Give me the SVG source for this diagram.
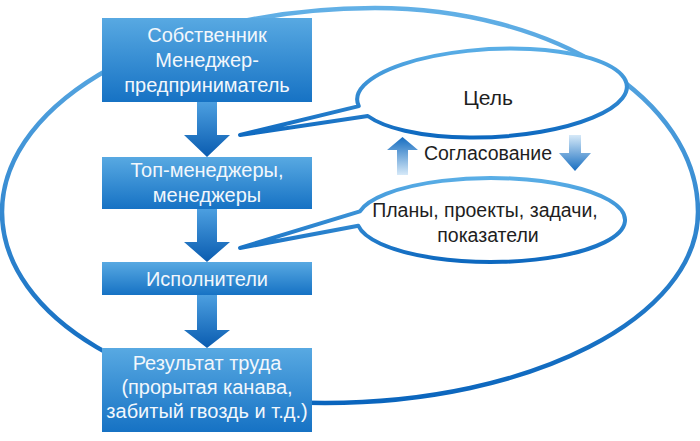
<svg xmlns="http://www.w3.org/2000/svg" width="700" height="441" viewBox="0 0 700 441">
<defs>
<linearGradient id="gBox" x1="0" y1="0" x2="0" y2="1">
<stop offset="0" stop-color="#58a9e2"/>
<stop offset="1" stop-color="#1672c4"/>
</linearGradient>
<linearGradient id="gRing" x1="0" y1="0" x2="0" y2="1">
<stop offset="0" stop-color="#62b0e6"/>
<stop offset="1" stop-color="#0a65bd"/>
</linearGradient>
<linearGradient id="gCall" x1="0" y1="0" x2="0" y2="1">
<stop offset="0" stop-color="#5aaee6"/>
<stop offset="1" stop-color="#0d68bf"/>
</linearGradient>
<linearGradient id="gDown" x1="0" y1="0" x2="0" y2="1">
<stop offset="0" stop-color="#4c9fe0"/>
<stop offset="1" stop-color="#0a5cb0"/>
</linearGradient>
<linearGradient id="gUp" x1="0" y1="1" x2="0" y2="0">
<stop offset="0" stop-color="#d6e9f8"/>
<stop offset="1" stop-color="#166dc0"/>
</linearGradient>
<linearGradient id="gDownSmall" x1="0" y1="0" x2="0" y2="1">
<stop offset="0" stop-color="#d6e9f8"/>
<stop offset="1" stop-color="#166dc0"/>
</linearGradient>
<style>
.box{fill:url(#gBox)}
.bt{font-family:"Liberation Sans",Arial,sans-serif;font-size:20px;fill:#f2f7fc;text-anchor:middle}
.dt{font-family:"Liberation Sans",Arial,sans-serif;font-size:19.5px;fill:#1e1e1e;text-anchor:middle}
.big{font-size:21px}
.call{fill:#ffffff;stroke:url(#gCall);stroke-width:4;stroke-linejoin:round}
</style>
</defs>

<g id="ring">
<path d="M 2 212 C 2 99.3 169 8 375 8 C 553.4 8 698 99.3 698 212 C 698 317.5 531 403 325 403 C 146.6 403 2 317.5 2 212 Z" fill="none" stroke="url(#gRing)" stroke-width="4.5"/>
</g>

<g id="goal">
<path class="call" d="M 358.8 106.1 A 135 44 -3 1 1 367.8 116 L 240 135 Z"/>
<text class="dt big" x="488" y="105">Цель</text>
</g>

<g id="plans">
<path class="call" d="M 359.9 211.3 A 134 42 0 1 1 358.3 225.8 L 240 248 Z"/>
<text class="dt" x="485" y="217">Планы, проекты, задачи,</text>
<text class="dt" x="488" y="242">показатели</text>
</g>

<g id="owner">
<rect class="box" x="102" y="18" width="210" height="84"/>
<text class="bt" x="207" y="42">Собственник</text>
<text class="bt" x="207" y="67">Менеджер-</text>
<text class="bt" x="207" y="92">предприниматель</text>
</g>

<g id="managers">
<rect class="box" x="102" y="157" width="210" height="52"/>
<text class="bt" x="207" y="177">Топ-менеджеры,</text>
<text class="bt" x="207" y="202">менеджеры</text>
</g>

<g id="executors">
<rect class="box" x="102" y="262" width="210" height="33"/>
<text class="bt" x="207" y="286">Исполнители</text>
</g>

<g id="result">
<rect class="box" x="102" y="348" width="210" height="84"/>
<text class="bt" x="207" y="370">Результат труда</text>
<text class="bt" x="207" y="394">(прорытая канава,</text>
<text class="bt" x="207" y="418">забитый гвоздь и т.д.)</text>
</g>

<g id="connectors">
<path d="M 197 102 H 217 V 135 H 230 L 207 157 L 184 135 H 197 Z" fill="url(#gDown)"/>
<path d="M 197 209 H 217 V 242 H 230 L 207 262 L 184 242 H 197 Z" fill="url(#gDown)"/>
<path d="M 197 295 H 217 V 330 H 230 L 207 348 L 184 330 H 197 Z" fill="url(#gDown)"/>
<path d="M 397 175 V 150 H 387 L 402.5 137 L 418 150 H 408 V 175 Z" fill="url(#gUp)"/>
<path d="M 569 135 V 153 H 559 L 575 171 L 591 153 H 581 V 135 Z" fill="url(#gDownSmall)"/>
<text class="dt" x="488" y="160">Согласование</text>
</g>
</svg>
